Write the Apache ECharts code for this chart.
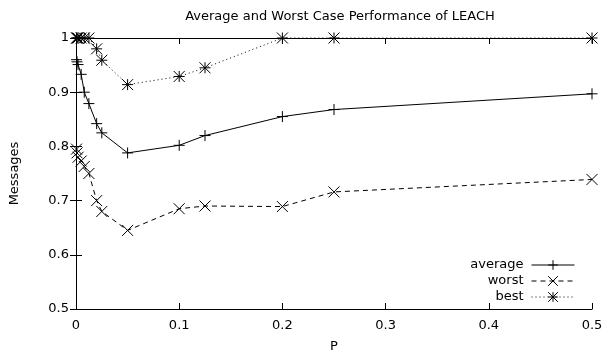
<!DOCTYPE html>
<html>
<head>
<meta charset="utf-8">
<script src="https://cdn.jsdelivr.net/npm/echarts@6/dist/echarts.min.js"></script>
<style>html,body{margin:0;padding:0;background:#fff}#c{width:606px;height:358px}</style>
</head>
<body>
<div id="c"></div>
<script>
var P = [0.0005, 0.001, 0.002, 0.005, 0.008, 0.0125, 0.02, 0.025, 0.05, 0.1, 0.125, 0.2, 0.25, 0.5];
var average = [0.96, 0.956, 0.951, 0.933, 0.9, 0.879, 0.842, 0.825, 0.788, 0.802, 0.82, 0.855, 0.868, 0.897];
var worst = [0.795, 0.788, 0.78, 0.773, 0.763, 0.75, 0.70, 0.68, 0.645, 0.685, 0.69, 0.689, 0.716, 0.739];
var best = [1, 1, 1, 1, 1, 1, 0.98, 0.959, 0.914, 0.929, 0.945, 1, 1, 1];
var xTicks = [0, 0.1, 0.2, 0.3, 0.4, 0.5];
var yTicks = [0.5, 0.6, 0.7, 0.8, 0.9, 1];

function pairs(ys){ return P.map(function(x,i){ return [x, ys[i]]; }); }
var FONT = 'DejaVu Sans';
var FS = 13;
var plus = 'path://M0,5 L10,5 M5,0 L5,10';
var cross = 'path://M0,0 L10,10 M10,0 L0,10';
var star = 'path://M0,5 L10,5 M5,0 L5,10 M0,0 L10,10 M10,0 L0,10';

function mkSeries(name, ys, sym, dash){
  return {
    name: name, type: 'line', data: pairs(ys), symbol: sym, symbolSize: 11,
    showAllSymbol: true, clip: false, animation: false,
    lineStyle: {color: '#000', width: 1, type: dash},
    itemStyle: {color: 'none', borderColor: '#000', borderWidth: 1},
    emphasis: {disabled: true}
  };
}

var chart = echarts.init(document.getElementById('c'), null, {renderer: 'canvas'});
var axisCommon = {
  type: 'value', splitLine: {show: false},
  axisLine: {show: true, lineStyle: {color: '#000', width: 1}},
  axisTick: {show: true, inside: true, length: 6, lineStyle: {color: '#000'}}
};
chart.setOption({
  animation: false,
  textStyle: {fontFamily: FONT},
  title: {text: 'Average and Worst Case Performance of LEACH', left: 335, top: 5, textAlign: 'center',
          textStyle: {fontFamily: FONT, fontSize: FS, fontWeight: 'normal', color: '#000'}},
  grid: {left: 75, right: 14, top: 38, bottom: 48},
  legend: {
    orient: 'vertical', right: 31, top: 257, align: 'right', padding: 0,
    itemWidth: 43, itemHeight: 12, itemGap: 0,
    itemStyle: {borderWidth: 1},
    lineStyle: {width: 1},
    textStyle: {fontFamily: FONT, fontSize: FS, lineHeight: 16, color: '#000', padding: [0, 3, 0, 0]},
    data: ['average', 'worst', 'best']
  },
  xAxis: [
    Object.assign({}, axisCommon, {position: 'bottom', min: xTicks[0], max: xTicks[xTicks.length-1], interval: 0.1,
      name: 'P', nameLocation: 'middle', nameGap: 31,
      nameTextStyle: {fontFamily: FONT, fontSize: FS, color: '#000'},
      axisLabel: {margin: 10, fontFamily: FONT, fontSize: FS, color: '#000'}}),
    Object.assign({}, axisCommon, {position: 'top', min: xTicks[0], max: xTicks[xTicks.length-1], interval: 0.1,
      axisLabel: {show: false}})
  ],
  yAxis: [
    Object.assign({}, axisCommon, {position: 'left', min: yTicks[0], max: yTicks[yTicks.length-1], interval: 0.1,
      name: 'Messages', nameLocation: 'middle', nameGap: 55, nameRotate: 90,
      nameTextStyle: {fontFamily: FONT, fontSize: FS, color: '#000'},
      axisLabel: {margin: 7, fontFamily: FONT, fontSize: FS, color: '#000'}}),
    Object.assign({}, axisCommon, {position: 'right', min: yTicks[0], max: yTicks[yTicks.length-1], interval: 0.1,
      axisLabel: {show: false}})
  ],
  series: [
    mkSeries('average', average, plus, 'solid'),
    mkSeries('worst', worst, cross, [5, 4]),
    mkSeries('best', best, star, [1, 3])
  ]
});
</script>
</body>
</html>
